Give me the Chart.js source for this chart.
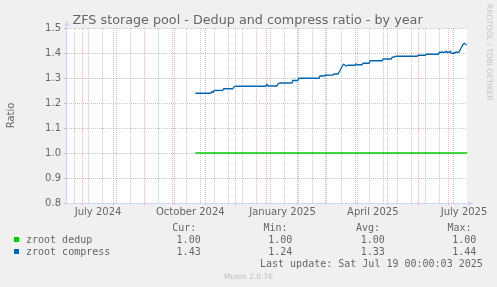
<!DOCTYPE html>
<html><head><meta charset="utf-8">
<script src="https://cdn.jsdelivr.net/npm/chart.js@4"></script>
<style>
html,body{margin:0;padding:0;background:#f0f0f0;}
#wrap{position:relative;width:497px;height:287px;overflow:hidden;background:#f0f0f0;font-family:"DejaVu Sans";color:#666;}
#c{position:absolute;left:0;top:0;width:497px;height:287px;}
.t{position:absolute;white-space:pre;}
.m{font-family:"DejaVu Sans Mono";font-size:10px;line-height:12px;}
.sq{position:absolute;width:5px;height:5px;}
</style></head><body>
<div id="wrap">
<canvas id="c" width="497" height="287"></canvas>
<div class="t" style="left:72.5px;top:12.2px;font-size:12.75px;line-height:15px;">ZFS storage pool - Dedup and compress ratio - by year</div>
<div class="t" style="left:484.5px;top:4.3px;font-size:7.5px;line-height:9px;writing-mode:vertical-rl;color:#c4c4c4;">RRDTOOL / TOBI OETIKER</div>
<div id="legend"></div>
<div class="t" style="left:224px;top:271.9px;font-size:7.5px;line-height:9px;color:#bbbbbb;">Munin 2.0.76</div>
</div>
<script>
// ---- data (x = days since 2024-07-01) ----
const xRange = [-16.26, 383.65];
const dedupDays = [112.7, 383.65];
const dedupValues = [1.00, 1.00];
const compressDays = [112.7,128,129.5,130.5,131.5,140,141,150,151,153,183,184,185.5,194,195,197,209,210,215,216,236,237,241,242,250,251,255,257,259,260.5,262,263,265,272,273,274,279,280,286,287,299,300,308,309,313,334,335,342,343,355,356,362,363,364,366,367,368,371,372,375.5,377.5,379.5,381,383.4];
const compressValues = [1.239,1.239,1.246,1.242,1.250,1.251,1.257,1.257,1.263,1.267,1.267,1.275,1.268,1.268,1.276,1.280,1.280,1.290,1.290,1.299,1.299,1.308,1.308,1.311,1.312,1.316,1.316,1.330,1.346,1.355,1.352,1.348,1.351,1.351,1.356,1.353,1.353,1.359,1.359,1.369,1.369,1.376,1.376,1.383,1.387,1.387,1.391,1.391,1.395,1.395,1.403,1.403,1.407,1.403,1.403,1.407,1.399,1.399,1.403,1.403,1.418,1.433,1.439,1.432];
const xTickLabels = ['July 2024','October 2024','January 2025','April 2025','July 2025'];
const xTickLabelDays = [15.7, 107.7, 199.7, 289.7, 380.7];
const monthStartDays = [0,31,62,92,123,153,184,215,243,274,304,335,365];
const minorGridDays = [-8,6,20,34,48,76,90,104,118,132,146,160,174,188,202,216,230,244,258,272,286,300,314,328,342,356,370];
const yRange = [0.8, 1.5];
const yStep = 0.1;
const seriesNames = ['zroot dedup','zroot compress'];
const seriesColors = ['#00cc00','#0066b3'];
const statHeaders = ['Cur:','Min:','Avg:','Max:'];
const statCur = ['1.00','1.43'];
const statMin = ['1.00','1.24'];
const statAvg = ['1.00','1.33'];
const statMax = ['1.00','1.44'];
const lastUpdate = 'Last update: Sat Jul 19 00:00:03 2025';

// ---- legend (HTML text) ----
(function(){
  const lg = document.getElementById('legend');
  const hx = [172.2, 263.5, 356, 447.5];
  const vx = [176.6, 268.3, 360.8, 452.3];
  let h = '';
  statHeaders.forEach((s,i)=>{ h += `<div class="t m" style="left:${hx[i]}px;top:222.2px">${s}</div>`; });
  const cols = [statCur, statMin, statAvg, statMax];
  const rowTop = [233.8, 246.2];
  seriesNames.forEach((n,r)=>{
    h += `<div class="sq" style="left:14px;top:${rowTop[r]+3.2}px;background:${seriesColors[r]}"></div>`;
    h += `<div class="t m" style="left:26px;top:${rowTop[r]}px">${n}</div>`;
    cols.forEach((c,i)=>{ h += `<div class="t m" style="left:${vx[i]}px;top:${rowTop[r]}px">${c[r]}</div>`; });
  });
  h += `<div class="t m" style="left:260px;top:258.2px">${lastUpdate}</div>`;
  lg.innerHTML = h;
})();

const MAJOR = 'rgba(222,79,79,0.42)';
const MINOR = 'rgba(143,143,143,0.5)';
const majorSet = new Set(monthStartDays);
const minorSet = new Set(minorGridDays);
const labelMap = new Map(xTickLabelDays.map((d,i)=>[d, xTickLabels[i]]));
const xTickValues = [...new Set([...monthStartDays, ...minorGridDays, ...xTickLabelDays])].sort((a,b)=>a-b);
function xGridColor(ctx){
  const v = ctx.tick ? ctx.tick.value : null;
  if (majorSet.has(v)) return MAJOR;
  if (minorSet.has(v)) return MINOR;
  return 'rgba(0,0,0,0)';
}
function xTickColor(ctx){
  const v = ctx.tick ? ctx.tick.value : null;
  return majorSet.has(v) ? MAJOR : 'rgba(0,0,0,0)';
}

const bgPlugin = {
  id:'bg',
  beforeDraw(chart){
    const {ctx, chartArea:a} = chart;
    ctx.save(); ctx.fillStyle = '#ffffff';
    ctx.fillRect(a.left, a.top, a.right-a.left, a.bottom-a.top);
    ctx.restore();
  }
};
const arrowPlugin = {
  id:'arrows',
  afterDraw(chart){
    const {ctx, chartArea:a} = chart;
    const L = Math.round(a.left)+0.5, B = Math.round(a.bottom)+0.5;
    ctx.save();
    ctx.strokeStyle = ctx.fillStyle = '#CFD6F8';
    ctx.lineWidth = 1;
    ctx.beginPath(); ctx.moveTo(L, a.top); ctx.lineTo(L, a.top-3); ctx.stroke();
    ctx.beginPath(); ctx.moveTo(L-2.5, a.top-2); ctx.lineTo(L+2.5, a.top-2); ctx.lineTo(L, a.top-7.5); ctx.closePath(); ctx.fill();
    ctx.beginPath(); ctx.moveTo(a.right, B); ctx.lineTo(a.right+3, B); ctx.stroke();
    ctx.beginPath(); ctx.moveTo(a.right+1, B-2.5); ctx.lineTo(a.right+1, B+2.5); ctx.lineTo(a.right+6.5, B); ctx.closePath(); ctx.fill();
    ctx.restore();
  }
};

const toPts = (xs, ys) => xs.map((x,i)=>({x, y: ys[i]}));

new Chart(document.getElementById('c'), {
  type:'line',
  data:{
    datasets:[
      {label:seriesNames[0], data:toPts(dedupDays, dedupValues), borderColor:seriesColors[0], borderWidth:1.4, pointRadius:0, tension:0, fill:false},
      {label:seriesNames[1], data:toPts(compressDays, compressValues), borderColor:seriesColors[1], borderWidth:1.3, pointRadius:0, tension:0, fill:false}
    ]
  },
  options:{
    responsive:false, animation:false, events:[],
    layout:{padding:{left:0, top:28, right:30, bottom:64}},
    plugins:{legend:{display:false}, tooltip:{enabled:false}, title:{display:false}},
    scales:{
      x:{
        type:'linear', min:xRange[0], max:xRange[1],
        afterBuildTicks(s){ s.ticks = xTickValues.map(v=>({value:v})); },
        afterFit(s){ s.height = 20; },
        grid:{color:xGridColor, lineWidth:1, drawTicks:true, tickLength:2, tickColor:xTickColor, tickBorderDash:[]},
        border:{display:true, color:'#CFD6F8', width:1, dash:[1,1]},
        ticks:{autoSkip:false, maxRotation:0, minRotation:0, padding:1, color:'#666',
          font:{family:'DejaVu Sans', size:10},
          callback:(v)=> labelMap.has(v) ? labelMap.get(v) : ''}
      },
      y:{
        min:yRange[0], max:yRange[1],
        afterFit(s){ s.width = 66; },
        grid:{color:MAJOR, lineWidth:1, drawTicks:true, tickLength:2, tickBorderDash:[]},
        border:{display:true, color:'#CFD6F8', width:1, dash:[1,1]},
        title:{display:true, text:'Ratio', color:'#666', font:{family:'DejaVu Sans', size:10}, padding:{top:5.5, bottom:0}},
        ticks:{stepSize:yStep, padding:3, color:'#666', font:{family:'DejaVu Sans', size:10},
          callback:(v)=> Number(v).toFixed(1)}
      }
    }
  },
  plugins:[bgPlugin, arrowPlugin]
});
</script>
</body></html>
